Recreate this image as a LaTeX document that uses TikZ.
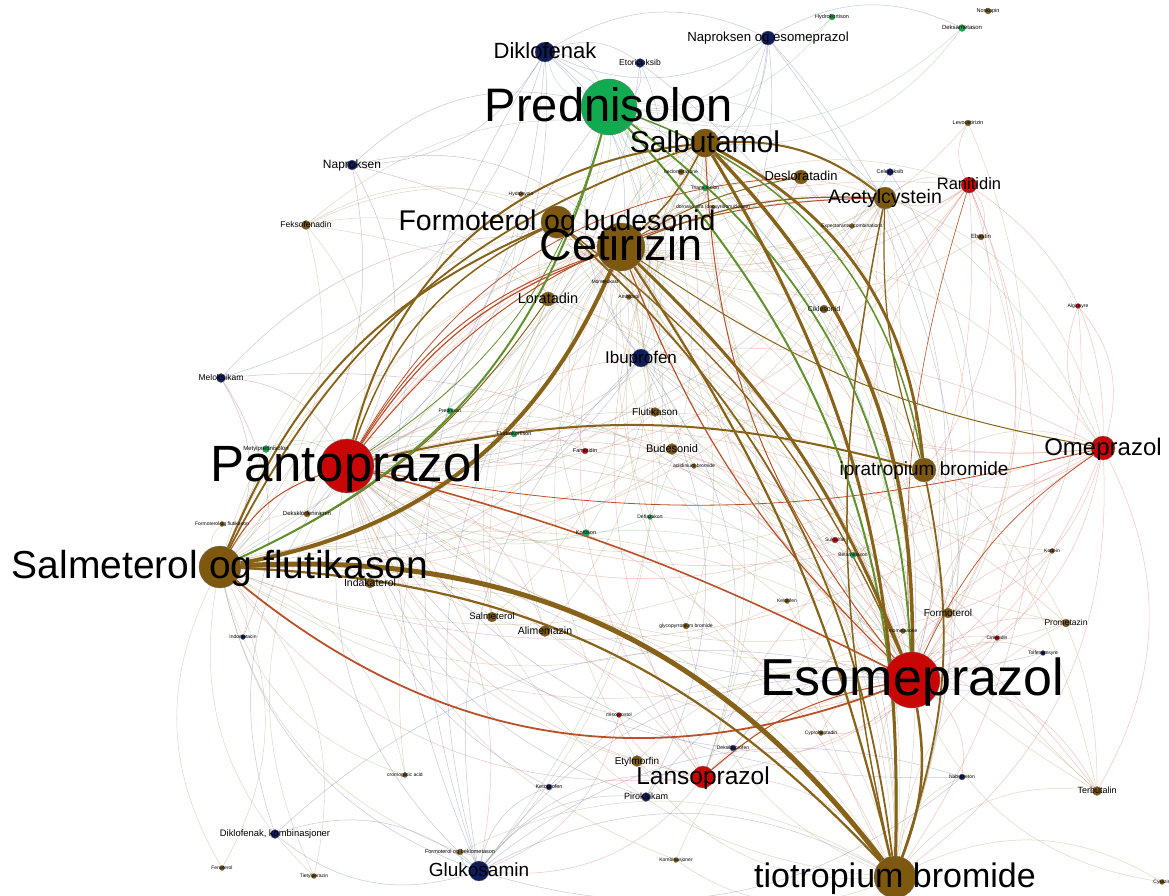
\documentclass[tikz,border=0pt]{standalone}
\usepackage{fontspec}
\setmainfont{Liberation Sans}
\pgfdeclarelayer{edges}
\pgfdeclarelayer{labels}
\pgfsetlayers{edges,main,labels}

% node colours
\definecolor{rd}{RGB}{200,6,6}
\definecolor{br}{RGB}{125,88,14}
\definecolor{gn}{RGB}{18,170,80}
\definecolor{nv}{RGB}{14,30,92}
% edge colours (blends of the endpoint colours)
\definecolor{ebr}{RGB}{135,98,24}
\definecolor{egr}{RGB}{95,145,45}
\definecolor{erd}{RGB}{185,80,40}
\definecolor{eld}{RGB}{215,120,105}
\definecolor{etn}{RGB}{185,160,115}
\definecolor{egl}{RGB}{130,185,130}
\definecolor{ebl}{RGB}{115,125,175}
\definecolor{emv}{RGB}{165,105,125}

\tikzset{
  dot/.style={circle,inner sep=0pt,minimum size=#1,draw=black!55,line width=0.3pt},
  hair/.style={line width=0.5pt,opacity=0.42,bend left=28},
}

% \drug{name}{x}{y}{diameter}{colour}{label size}{label}
\newcommand\drug[7]{%
  \node[dot=#4,fill=#5] (#1) at (#2,-#3) {};
  \begin{pgfonlayer}{labels}
    \node[anchor=base,inner sep=0pt,text=black,font=\fontsize{#6}{#6}\selectfont]
      (#1-l) at ([yshift={-0.3*#6pt}]#1.center) {#7};
  \end{pgfonlayer}}

\begin{document}
\begin{tikzpicture}[x=1pt,y=1pt]
\useasboundingbox (0,0) rectangle (1169,-895);
\begin{pgfonlayer}{edges}
  \fill[white] (0,0) rectangle (1169,-895);
\end{pgfonlayer}

% ---- drugs ----
\drug{Pred}{609}{107}{56}{gn}{47}{Prednisolon}
\drug{Cet}{621}{247}{48}{br}{45}{Cetirizin}
\drug{Pant}{347}{466}{54}{rd}{51}{Pantoprazol}
\drug{Eso}{912}{680}{56}{rd}{52}{Esomeprazol}
\drug{Salm}{220}{567}{42}{br}{39}{Salmeterol og flutikason}
\drug{Tio}{895}{877}{42}{br}{34}{tiotropium bromide}
\drug{FoB}{557}{222}{32}{br}{28.5}{Formoterol og budesonid}
\drug{Salb}{705}{143}{28}{br}{30}{Salbutamol}
\drug{Acet}{885}{198}{22}{br}{19.5}{Acetylcystein}
\drug{Ipra}{924}{470}{24}{br}{19}{ipratropium bromide}
\drug{Ome}{1103}{448}{24}{rd}{24}{Omeprazol}
\drug{Lans}{703}{777}{22}{rd}{24.5}{Lansoprazol}
\drug{Gluk}{479}{871}{20}{nv}{19}{Glukosamin}
\drug{Ran}{969}{185}{16}{rd}{16.5}{Ranitidin}
\drug{Ibu}{641}{358}{18}{nv}{17}{Ibuprofen}
\drug{Dikl}{545}{52}{20}{nv}{22}{Diklofenak}
\drug{NoE}{768}{38}{14}{nv}{13.2}{Naproksen og esomeprazol}
\drug{Desl}{801}{177}{14}{br}{13}{Desloratadin}
\drug{Lor}{548}{299}{14}{br}{14.5}{Loratadin}
\drug{Napr}{352}{165}{10}{nv}{12}{Naproksen}
\drug{Bud}{672}{449}{11}{br}{11}{Budesonid}
\drug{Flut}{655}{412}{9}{br}{10}{Flutikason}
\drug{Form}{948}{613}{10}{br}{10}{Formoterol}
\drug{Salme}{492}{617}{10}{br}{9.5}{Salmeterol}
\drug{Alim}{545}{631}{11}{br}{10.5}{Alimemazin}
\drug{Inda}{370}{583}{10}{br}{10.5}{Indakaterol}
\drug{Melo}{221}{378}{9}{nv}{8.5}{Meloksikam}
\drug{Feks}{306}{225}{9}{br}{8.5}{Feksofenadin}
\drug{DiKo}{275}{834}{9}{nv}{9.4}{Diklofenak, kombinasjoner}
\drug{Etyl}{637}{761}{11}{br}{10}{Etylmorfin}
\drug{Piro}{646}{797}{9}{nv}{9}{Piroksikam}
\drug{Terb}{1097}{791}{9}{br}{9}{Terbutalin}
\drug{Prom}{1066}{623}{8}{br}{8.5}{Prometazin}
\drug{Cikl}{824}{309}{8}{br}{7}{Ciklesonid}
\drug{Etor}{640}{63}{9}{nv}{8.5}{Etoricoksib}
\drug{Hydk}{832}{17}{6}{gn}{5.5}{Hydrokortison}
\drug{Deks}{962}{28}{7}{gn}{6}{Deksametason}
\drug{Nosk}{988}{11}{6}{br}{5.5}{Noskapin}
\drug{Levo}{968}{123}{6}{br}{5.5}{Levocetirizin}
\drug{Cele}{890}{172}{7}{nv}{5.5}{Celecoksib}
\drug{Ebas}{981}{237}{6}{br}{6}{Ebastin}
\drug{Algi}{1078}{306}{5}{rd}{5}{Alginsyre}
\drug{Hydz}{521}{194}{5}{br}{5}{Hydroxyzin}
\drug{Becl}{681}{172}{6}{br}{5}{beclometasone}
\drug{Tria}{705}{188}{6}{gn}{5}{Triamcinolon}
\drug{Dorn}{713}{207}{4}{br}{5}{dornase alfa (deoxyribonuclease)}
\drug{Expe}{852}{226}{5}{br}{5}{Expectorants, combinations}
\drug{Mont}{605}{282}{5}{br}{5}{Montelukast}
\drug{Ambr}{629}{297}{5}{br}{5}{Ambroxol}
\drug{Prdn}{450}{411}{6}{gn}{5}{Prednison}
\drug{Fldk}{514}{434}{6}{gn}{5.5}{Fludrokortison}
\drug{Famo}{585}{451}{6}{rd}{5.5}{Famotidin}
\drug{Acli}{694}{466}{5}{br}{5}{aclidinium bromide}
\drug{Defl}{650}{517}{5}{gn}{5}{Deflazakort}
\drug{Kort}{586}{533}{7}{gn}{5.5}{Kortison}
\drug{Mety}{266}{449}{7}{gn}{6}{Metylprednisolon}
\drug{FoF}{222}{524}{5}{br}{5}{Formoterol og flutikason}
\drug{Dekk}{307}{514}{6}{br}{6}{Deksklorfeniramin}
\drug{Sukr}{835}{540}{6}{rd}{5}{Sukralfat}
\drug{Beta}{853}{555}{6}{gn}{5}{Betametason}
\drug{Keto}{787}{601}{5}{br}{5}{Ketotifen}
\drug{Mome}{903}{631}{5}{br}{5}{mometasone}
\drug{Cime}{997}{638}{5}{rd}{5}{Cimetidin}
\drug{Kode}{1052}{551}{5}{br}{5}{Kodein}
\drug{Tolf}{1043}{653}{5}{nv}{5}{Tolfenamsyre}
\drug{Indo}{243}{637}{5}{nv}{5}{Indometacin}
\drug{Glyc}{686}{626}{6}{br}{5}{glycopyrronium bromide}
\drug{Miso}{619}{715}{5}{rd}{5}{misoprostol}
\drug{Cypr}{821}{733}{5}{br}{5}{Cyproheptadin}
\drug{Dkib}{733}{748}{6}{nv}{5}{Deksibuprofen}
\drug{Ktpr}{549}{787}{6}{nv}{5.5}{Ketoprofen}
\drug{Crom}{405}{775}{5}{br}{5}{cromoglicic acid}
\drug{FoBe}{460}{852}{6}{br}{5.5}{Formoterol og beklometason}
\drug{Komb}{676}{860}{5}{br}{5}{Kombinasjoner}
\drug{Feno}{222}{868}{5}{br}{5}{Fenoterol}
\drug{Tiet}{314}{876}{5}{br}{5}{Tietylperazin}
\drug{Nabu}{962}{777}{6}{nv}{5}{Nabumeton}
\drug{Cykl}{1162}{882}{5}{br}{5}{Cyklizin}

% ---- connections ----
\begin{pgfonlayer}{edges}
% faint co-prescription arcs
\foreach \s/\c/\ts in {
  Ran/eld/{Eso,Pant,Ome,Lans,Tio,Cet,Salm,FoB,Acet,Ipra,Ebas,Levo},
  Ome/eld/{Pant,Eso,Cet,Salm,Tio,Lans,Algi,Ipra,Form,Terb,FoB},
  Lans/eld/{Pant,Cet,Salm,Tio,Etyl,Miso,Ome,Gluk,Salb},
  Gluk/ebl/{Pant,Eso,Cet,Ibu,Dikl,DiKo,Ktpr,Piro,Salm,Tio,FoBe,Pred,Lans,Nabu},
  Dikl/ebl/{Pant,Eso,Cet,Pred,Ibu,Melo,Napr,NoE,Etor,Salm},
  NoE/ebl/{Eso,Pant,Pred,Cet,Ibu,Tio,Dikl,Salb,Deks},
  Ibu/ebl/{Pant,Eso,Cet,Salm,Pred,Tio,Lans,Piro},
  Napr/emv/{Pant,Eso,Cet,Salm,Pred},
  Melo/emv/{Pant,Salm,Eso,Cet,Indo},
  Feks/etn/{Cet,Pant,Salm,FoB,Salb,Eso,Lor},
  Etor/ebl/{Pant,Eso,Pred,Cet},
  Desl/etn/{Cet,Salb,Pant,Eso,Salm,Acet,Tio},
  Lor/etn/{Cet,Pant,Salm,Eso,FoB,Tio},
  Acet/etn/{Pant,Eso,Salm,Cet,FoB,Ome,Ran,Lans},
  Ipra/etn/{Salm,Cet,FoB,Pant,Ome,Terb,Form},
  Pred/egl/{Pant,Cet,Eso,Salb,FoB,Lans,Gluk,Dikl,Ibu,Ome,Acet,Kort,Defl},
  Cet/etn/{Eso,Tio,Ipra,Salb,Acet,Lans,Ome,Ran,Terb,Form,Glyc,Alim,Salme,Inda,Gluk},
  Pant/eld/{Tio,Acet,Ome,Ran,Lans,Gluk,Alim,Salme,Famo,Sukr,Cime,Terb,Prom},
  Eso/eld/{Salb,Acet,Ome,Ran,Form,Terb,Prom,Kode,Cime,Tolf,Nabu,Cypr,Dkib,Keto,Mome,Alim},
  Salm/etn/{Salb,FoB,Cet,Ipra,Acet,Inda,Salme,Alim,Terb,Feno,Tiet,Crom,FoF,Dekk,Indo,Lans},
  Tio/etn/{Acet,Terb,Form,Komb,Nabu,Cykl,Glyc,Etyl,Salme,Prom},
  Hydk/egl/{Pred,NoE},
  Deks/egl/{Pred,Salb},
  Levo/etn/{Cet,Eso},
  Cele/ebl/{Eso,Pant},
  Ebas/etn/{Cet,Eso},
  Algi/eld/{Ome,Eso},
  Hydz/etn/{Cet,Pant},
  Becl/etn/{Salb,Tio,Salm},
  Tria/egl/{Pred,Salb},
  Expe/etn/{Acet,Cet},
  Mont/etn/{Cet,Salm,Salb},
  Ambr/etn/{Acet,Cet},
  Prdn/egl/{Pant,Eso},
  Fldk/egl/{Pant,Cet},
  Famo/eld/{Eso,Cet},
  Acli/etn/{Tio,Salb},
  Defl/egl/{Eso,Pant},
  Kort/egl/{Pant,Eso,Cet},
  Mety/egl/{Pant,Salm,Eso},
  Dekk/etn/{Cet,Pant},
  Sukr/eld/{Eso,Pant},
  Beta/egl/{Eso,Cet},
  Keto/etn/{Cet,Salm},
  Mome/etn/{Eso,Salm},
  Cime/eld/{Eso,Ome},
  Kode/etn/{Eso,Cet},
  Tolf/ebl/{Eso,Pant},
  Glyc/etn/{Tio,Salb},
  Miso/eld/{Pant,Gluk},
  Cypr/etn/{Cet,Eso},
  Dkib/ebl/{Pant,Eso},
  Ktpr/ebl/{Eso,Pant},
  Crom/etn/{Salm,Cet},
  FoBe/etn/{Salm,Tio,Gluk},
  Komb/etn/{Eso,Pant},
  Feno/etn/{Salm},
  Tiet/etn/{Salm,Pant},
  Nabu/ebl/{Pant,Gluk},
  Cykl/etn/{Eso},
  Etyl/etn/{Cet,Pant,Eso},
  Piro/ebl/{Pant,Eso},
  Terb/etn/{Salb,Acet},
  Prom/etn/{Cet,Pant},
  Cikl/etn/{Salb,Tio,Salm},
  Inda/etn/{Tio,Cet},
  Salme/etn/{Salb,Cet},
  Alim/etn/{Cet,Pant},
  Bud/etn/{Salb,Pant},
  Flut/etn/{Salb,Pant,Tio},
  Form/etn/{Salb,Pant},
  DiKo/ebl/{Pant,Eso,Gluk}}
  {\foreach \t in \ts {\draw[hair,\c] (\s) to (\t);}}

% stronger links
\foreach \a/\b/\c/\w/\k in {
  Pred/Pant/egr/0.8/20,
  Pant/Eso/erd/1.6/6,
  Salm/Eso/erd/1.8/-30,
  Cet/Pant/erd/1.2/-18,
  Pant/Cet/erd/1/20,
  Pant/Acet/erd/1/25,
  Pant/Desl/erd/0.8/28,
  Eso/Cet/erd/1.2/12,
  Eso/Salb/erd/1/18,
  Eso/Lans/erd/1/-15,
  Salm/Pant/erd/1/20,
  Ome/Eso/erd/0.7/-15,
  Ran/Eso/erd/0.6/-10,
  Ome/Pant/erd/0.8/12,
  Cet/Ome/ebr/1/-12,
  Desl/Cet/ebr/1/-10,
  Lor/Salm/ebr/1/15,
  Acet/Ipra/ebr/1.2/-10,
  Acet/Cet/ebr/1.2/-12,
  Cet/Salb/ebr/1.5/-10,
  Acet/Tio/ebr/1.5/-12,
  Acet/Salb/ebr/2/-20,
  FoB/Eso/ebr/1.4/14,
  FoB/Tio/ebr/1.8/20,
  Ipra/Tio/ebr/1.8/15,
  Pant/FoB/ebr/1.5/22,
  Salm/FoB/ebr/2/22,
  Salm/Salb/ebr/1.8/22,
  Pant/Ipra/ebr/2/14,
  Pant/Salb/ebr/2/35,
  Pred/Ipra/egr/1.5/30,
  Pred/Eso/egr/1.8/25,
  Pred/Salm/egr/2/25,
  Pred/Tio/egr/2/22,
  Eso/Tio/ebr/2.5/15,
  Cet/Tio/ebr/2.2/10,
  Cet/Eso/ebr/3/12,
  Salb/Ipra/ebr/2.8/28,
  Salb/Tio/ebr/3/16,
  Salb/Eso/ebr/3.5/22,
  Salm/Cet/ebr/4/-28,
  Salm/Tio/ebr/2.2/22,
  Salm/Tio/ebr/5/28}
  {\draw[\c,line width=\w pt,bend left=\k] (\a) to (\b);}
\end{pgfonlayer}
\end{tikzpicture}
\end{document}
